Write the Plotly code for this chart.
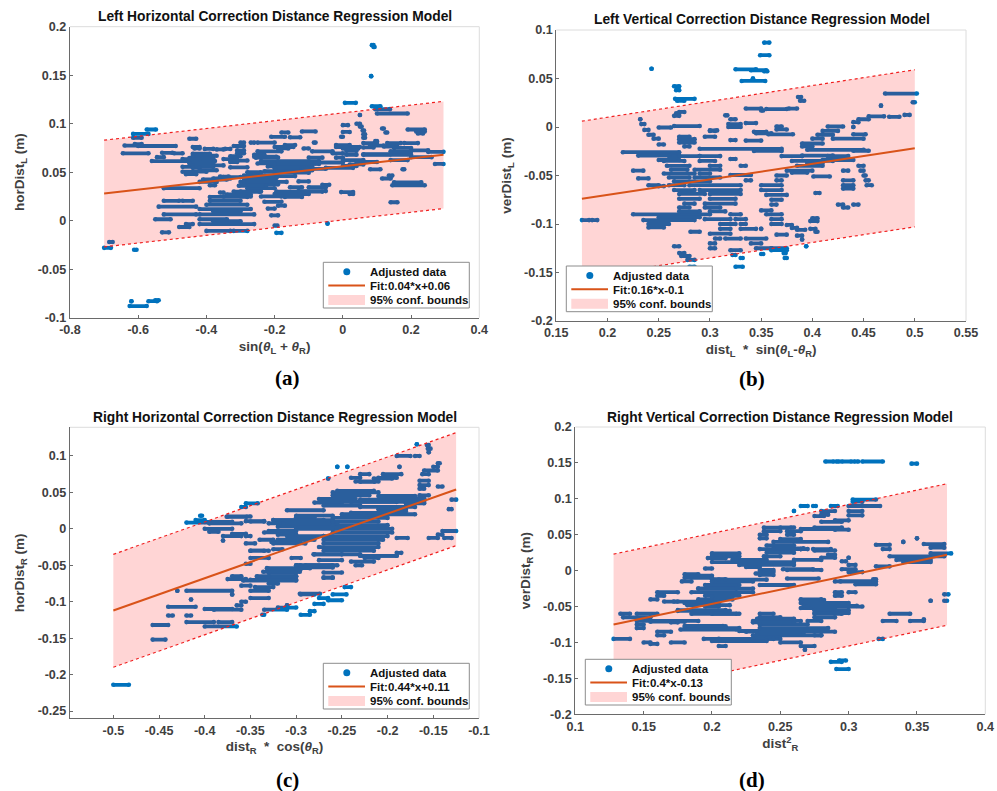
import plotly.graph_objects as go

# ---- panel (a) : rows are (y, x_start, x_end) runs of samples
a_rows = [
(0.181,0.085,0.09),(0.179,0.09,0.093),(0.149,0.083,0.083),(0.1215,0.006,0.038),(0.118,0.085,0.11),(0.115,0.095,0.138),(0.1105,0.1,0.19),(0.109,0.05,0.05),
(0.1,0.04,0.05),(0.097,0.05,0.055),(0.093,0.058,0.062),(0.089,0.06,0.065),(0.0855,0.06,0.065),(0.0985,0.0,0.015),(0.0915,0.0,0.02),(0.0865,-0.005,0.0),
(0.095,0.115,0.12),(0.091,0.125,0.13),(0.094,0.19,0.24),(0.092,0.215,0.24),(0.09,0.22,0.235),
(0.092,-0.12,-0.08),(0.091,-0.18,-0.16),(0.0865,-0.21,-0.17),(0.086,-0.155,-0.125),(0.0845,-0.45,-0.43),
(0.094,-0.575,-0.548),(0.0895,-0.615,-0.57),(0.0855,-0.615,-0.59),(0.079,-0.61,-0.59),(0.0775,-0.64,-0.6),(0.077,-0.6,-0.49),(0.076,-0.44,-0.42),
(0.0695,-0.645,-0.57),(0.0745,-0.435,-0.42),(0.074,-0.405,-0.38),(0.0735,-0.37,-0.35),(0.074,-0.345,-0.33),(0.07,-0.53,-0.5),(0.0695,-0.495,-0.47),(0.0655,-0.545,-0.525),
(0.0615,-0.56,-0.375),(0.069,-0.44,-0.39),(0.067,-0.44,-0.37),(0.0645,-0.45,-0.38),(0.059,-0.45,-0.38),(0.057,-0.44,-0.35),(0.0545,-0.44,-0.42),(0.052,-0.42,-0.37),(0.0505,-0.47,-0.4),(0.048,-0.46,-0.43),(0.0455,-0.36,-0.335),
(0.0605,-0.33,-0.31),(0.0635,-0.35,-0.31),(0.0665,-0.33,-0.3),(0.0695,-0.31,-0.29),(0.0725,-0.31,-0.29),(0.077,-0.32,-0.29),(0.0805,-0.3,-0.29),(0.0805,-0.27,-0.26),(0.0805,-0.25,-0.2),
(0.0615,-0.24,-0.07),(0.0585,-0.2,-0.07),(0.056,-0.22,-0.09),(0.0535,-0.12,-0.05),(0.0715,-0.25,-0.18),(0.0745,-0.19,-0.16),(0.078,-0.17,-0.14),(0.068,-0.26,-0.23),(0.065,-0.255,-0.19),
(0.0715,-0.09,-0.03),(0.0695,-0.03,0.0),(0.0745,-0.115,-0.1),(0.0805,-0.085,-0.08),(0.065,-0.1,-0.06),(0.06,-0.07,0.0),(0.0545,-0.05,0.03),(0.0565,0.0,0.04),
(0.078,-0.02,0.02),(0.076,-0.02,0.05),(0.0745,0.0,0.045),(0.072,0.01,0.04),(0.068,0.01,0.04),(0.065,-0.02,0.0),
(0.08,0.06,0.1),(0.08,0.13,0.17),(0.08,0.18,0.22),(0.082,0.095,0.1),(0.0755,0.06,0.09),(0.068,0.06,0.2),(0.075,0.15,0.2),(0.0725,0.2,0.25),(0.071,0.25,0.295),(0.0625,0.14,0.19),(0.0585,0.27,0.295),
(0.053,0.08,0.11),(0.053,0.175,0.18),(0.0435,0.115,0.14),(0.0465,0.135,0.145),(0.0395,0.15,0.23),(0.0365,0.145,0.24),(0.019,0.14,0.16),(0.0295,-0.005,0.03),(0.0275,0.02,0.03),
(-0.003,-0.045,-0.045),(-0.0125,-0.195,-0.18),(-0.005,-0.2,-0.192),
(0.0205,-0.525,-0.48),(0.0205,-0.47,-0.44),(0.0145,-0.54,-0.43),(0.0065,-0.525,-0.43),(0.0015,-0.55,-0.505),(-0.012,-0.53,-0.51),(0.0335,-0.525,-0.42),(-0.0065,-0.48,-0.45),(-0.0035,-0.46,-0.44),
(-0.0105,-0.4,-0.33),(-0.0105,-0.32,-0.28),(-0.0035,-0.42,-0.26),(0.0015,-0.42,-0.34),(0.0065,-0.42,-0.26),(0.012,-0.42,-0.27),(0.0165,-0.4,-0.28),(0.0205,-0.39,-0.3),(0.0245,-0.39,-0.28),(0.027,-0.34,-0.27),
(0.03,-0.3,-0.24),(0.0335,-0.28,-0.2),(0.0375,-0.29,-0.19),(0.04,-0.28,-0.2),(0.0435,-0.29,-0.21),(0.0465,-0.29,-0.25),(0.05,-0.28,-0.24),
(0.0195,-0.23,-0.18),(0.0125,-0.22,-0.2),(0.0155,-0.19,-0.17),(0.0275,-0.2,-0.1),(0.0245,-0.17,-0.12),(0.0305,-0.13,-0.05),(0.0345,-0.1,-0.05),(0.0345,-0.155,-0.12),(0.037,-0.06,-0.04),(0.0405,-0.13,-0.1),(0.0055,-0.21,-0.19),
(0.0495,-0.2,-0.1),(0.046,-0.19,-0.14),(0.052,-0.12,-0.09),(0.04,-0.42,-0.37),(0.0425,-0.41,-0.34),(0.045,-0.35,-0.3),(0.0365,-0.39,-0.375),(0.029,-0.36,-0.35),
(-0.028,-0.7,-0.68),(-0.022,-0.685,-0.675),(-0.03,-0.612,-0.605),(-0.088,-0.625,-0.575),(-0.083,-0.62,-0.62),(-0.083,-0.57,-0.545),(-0.082,-0.55,-0.54),
(0.076,-0.2,-0.145),(0.066,-0.26,-0.195),(0.059,-0.25,-0.08),(0.054,-0.2,-0.105),(0.051,-0.23,-0.12),(0.047,-0.26,-0.195),(0.044,-0.285,-0.195),(0.04,-0.3,-0.165),(0.036,-0.305,-0.225),(0.03,-0.32,-0.245),(0.03,-0.195,-0.06),(0.025,-0.35,-0.27),(0.025,-0.24,-0.18),
(0.0775,0.08,0.12),(0.0625,0.0,0.06),(0.0685,0.06,0.14),(0.0605,0.04,0.1),(0.058,0.02,0.06),(0.0765,0.12,0.16),(0.0715,0.14,0.2),(0.0655,0.2,0.26),(0.0635,-0.47,-0.42),(0.0555,-0.47,-0.38),(0.062,-0.33,-0.28),(0.055,-0.33,-0.28),(0.0435,-0.38,-0.33),(0.0095,-0.38,-0.3),(-0.0005,-0.38,-0.3),
]
a_fit_x = [-0.7, 0.295]
a_fit_y = [0.028, 0.068]
a_upper = [0.083, 0.123]
a_lower = [-0.027, 0.0125]

# ---- panel (b)
b_rows = [
(0.087,0.353,0.358),(0.074,0.349,0.358),(0.06,0.243,0.243),(0.0595,0.325,0.345),(0.0585,0.34,0.355),(0.0575,0.353,0.356),(0.0475,0.331,0.354),(0.05,0.342,0.342),(0.042,0.265,0.27),(0.038,0.267,0.27),(0.029,0.266,0.285),(0.027,0.268,0.275),
(0.0345,0.471,0.502),(0.031,0.386,0.389),(0.027,0.388,0.392),(0.019,0.335,0.35),(0.0185,0.355,0.375),(0.019,0.377,0.385),(0.017,0.35,0.352),(0.0155,0.27,0.275),(0.014,0.267,0.27),(0.0115,0.265,0.27),
(0.0255,0.498,0.5),(0.022,0.467,0.467),(0.0125,0.49,0.495),(0.011,0.455,0.47),(0.0105,0.475,0.485),(0.008,0.445,0.455),(0.005,0.44,0.445),(0.0,0.44,0.44),
(0.008,0.232,0.232),(0.003,0.233,0.236),(-0.003,0.236,0.24),(-0.008,0.24,0.245),(-0.012,0.245,0.25),(-0.018,0.25,0.255),
(0.001,0.265,0.29),(-0.0005,0.25,0.262),(-0.0125,0.27,0.285),(-0.016,0.27,0.285),(-0.02,0.275,0.28),(-0.0225,0.29,0.37),(-0.026,0.215,0.27),(-0.0295,0.23,0.27),(-0.0247,0.343,0.37),(-0.03,0.37,0.39),(-0.0295,0.39,0.42),(-0.0235,0.395,0.45),(-0.0245,0.44,0.455),
(-0.0075,0.357,0.381),(-0.0025,0.365,0.375),(0.0005,0.365,0.37),(0.003,0.318,0.33),(0.0,0.318,0.33),(0.012,0.315,0.317),(0.008,0.32,0.325),(0.004,0.335,0.345),(-0.005,0.343,0.355),(-0.0065,0.345,0.36),(-0.014,0.335,0.35),(-0.0135,0.32,0.325),(-0.0035,0.3,0.307),(-0.01,0.295,0.305),
(0.0005,0.415,0.43),(-0.004,0.41,0.425),(-0.008,0.405,0.42),(-0.012,0.4,0.41),(-0.012,0.42,0.45),(-0.0075,0.44,0.452),(-0.017,0.39,0.41),(-0.02,0.39,0.4),
(-0.051,0.401,0.417),(-0.068,0.403,0.407),(-0.035,0.38,0.42),(-0.03,0.415,0.435),(-0.034,0.41,0.44),(-0.038,0.4,0.405),(-0.04,0.445,0.45),(-0.045,0.447,0.45),(-0.05,0.45,0.452),(-0.055,0.452,0.455),(-0.06,0.453,0.458),
(-0.045,0.43,0.435),(-0.055,0.43,0.44),(-0.06,0.43,0.44),(-0.0635,0.43,0.44),(-0.08,0.425,0.43),(-0.083,0.43,0.435),(-0.08,0.44,0.445),(-0.094,0.4,0.405),(-0.097,0.398,0.405),(-0.105,0.398,0.403),(-0.108,0.403,0.405),
(-0.101,0.375,0.38),(-0.104,0.38,0.385),(-0.106,0.385,0.393),(-0.112,0.385,0.39),(-0.116,0.39,0.39),(-0.123,0.394,0.394),(-0.111,0.365,0.375),
(-0.045,0.225,0.235),(-0.053,0.23,0.24),(-0.06,0.24,0.25),(-0.061,0.25,0.255),(-0.09,0.225,0.3),(-0.093,0.25,0.29),(-0.096,0.235,0.285),(-0.1,0.24,0.26),(-0.1035,0.24,0.255),(-0.096,0.175,0.182),(-0.096,0.185,0.19),(-0.108,0.281,0.29),
(-0.123,0.265,0.27),(-0.13,0.27,0.275),(-0.133,0.272,0.28),(-0.137,0.278,0.285),(-0.144,0.28,0.285),(-0.144,0.325,0.332),(-0.135,0.33,0.332),(-0.132,0.322,0.325),(-0.127,0.32,0.33),(-0.125,0.345,0.36),(-0.131,0.35,0.352),(-0.127,0.36,0.375),(-0.125,0.36,0.375),(-0.13,0.372,0.374),(-0.135,0.373,0.375),
(-0.115,0.335,0.355),(-0.12,0.34,0.35),(-0.105,0.33,0.345),(-0.1,0.33,0.335),(-0.095,0.325,0.335),(-0.09,0.32,0.33),(-0.086,0.35,0.36),(-0.09,0.355,0.37),(-0.095,0.36,0.37),(-0.1,0.36,0.37),(-0.105,0.35,0.35),(-0.11,0.3,0.32),
(-0.06,0.35,0.37),(-0.065,0.35,0.37),(-0.07,0.355,0.375),(-0.075,0.36,0.37),(-0.08,0.36,0.365),(-0.055,0.335,0.34),(-0.0495,0.32,0.34),(-0.05,0.365,0.375),(-0.045,0.375,0.4),(-0.047,0.38,0.395),(-0.055,0.365,0.37),(-0.04,0.385,0.41),(-0.037,0.395,0.41),
(-0.115,0.305,0.31),(-0.12,0.3,0.305),(-0.115,0.315,0.33),(-0.125,0.3,0.305),
(-0.035,0.255,0.275),(-0.04,0.258,0.28),(-0.044,0.262,0.278),(-0.044,0.285,0.31),(-0.048,0.255,0.285),(-0.048,0.29,0.3),(-0.052,0.26,0.28),(-0.052,0.285,0.31),(-0.056,0.265,0.3),(-0.06,0.26,0.275),(-0.06,0.28,0.33),(-0.065,0.265,0.285),(-0.065,0.29,0.33),(-0.069,0.27,0.295),(-0.069,0.3,0.33),(-0.074,0.27,0.29),(-0.074,0.3,0.325),(-0.079,0.275,0.285),(-0.079,0.295,0.325),(-0.083,0.27,0.28),(-0.083,0.295,0.31),(-0.087,0.27,0.29),(-0.087,0.3,0.315),
(-0.095,0.295,0.32),(-0.1,0.31,0.325),(-0.105,0.31,0.32),(-0.04,0.3,0.31),(-0.03,0.29,0.31),(-0.034,0.25,0.27),(-0.03,0.26,0.29),(-0.035,0.29,0.305),(-0.033,0.32,0.325),(-0.04,0.33,0.335),
(-0.01,0.27,0.28),(-0.004,0.3,0.305),
]
b_fit_x = [0.175, 0.5]
b_fit_y = [-0.074, -0.022]
b_upper = [0.006, 0.059]
b_lower = [-0.155, -0.103]

# ---- panel (c)
c_rows = [
(0.116,-0.168,-0.168),(0.115,-0.157,-0.155),(0.11,-0.156,-0.153),(0.105,-0.155,-0.155),(0.1,-0.19,-0.175),(0.1,-0.17,-0.165),(0.085,-0.255,-0.255),(0.085,-0.244,-0.244),(0.09,-0.145,-0.143),(0.085,-0.15,-0.145),(0.08,-0.16,-0.145),(0.075,-0.162,-0.155),(0.085,-0.187,-0.187),(0.069,-0.265,-0.265),
(0.075,-0.205,-0.185),(0.07,-0.21,-0.19),(0.075,-0.23,-0.22),(0.065,-0.235,-0.21),(0.07,-0.24,-0.23),(0.066,-0.165,-0.155),(0.06,-0.165,-0.155),(0.055,-0.165,-0.16),(0.058,-0.145,-0.14),
(0.052,-0.255,-0.215),(0.05,-0.26,-0.21),(0.046,-0.26,-0.22),(0.046,-0.165,-0.155),(0.041,-0.275,-0.235),(0.04,-0.23,-0.17),(0.036,-0.28,-0.25),(0.037,-0.24,-0.16),(0.032,-0.27,-0.23),(0.03,-0.23,-0.17),(0.027,-0.21,-0.18),(0.0255,-0.31,-0.27),(0.035,-0.355,-0.342),(0.03,-0.36,-0.355),(0.02,-0.25,-0.22),(0.015,-0.26,-0.2),(0.017,-0.375,-0.35),(0.012,-0.41,-0.4),(0.0085,-0.42,-0.395),(0.012,-0.325,-0.27),(0.0105,-0.355,-0.335),(0.0075,-0.395,-0.36),(0.0075,-0.33,-0.26),(0.0,-0.4,-0.37),(-0.004,-0.395,-0.385),(0.003,-0.32,-0.24),(0.018,-0.405,-0.403),
(-0.214,-0.5,-0.483),(-0.152,-0.457,-0.443),(-0.132,-0.457,-0.44),(-0.119,-0.44,-0.435),(-0.119,-0.42,-0.415),(-0.107,-0.44,-0.41),(-0.128,-0.42,-0.39),(-0.128,-0.385,-0.37),(-0.134,-0.4,-0.365),(-0.11,-0.4,-0.37),(-0.111,-0.39,-0.36),(-0.097,-0.415,-0.415),(-0.085,-0.42,-0.37),(-0.085,-0.43,-0.43),(-0.09,-0.37,-0.37),(-0.078,-0.36,-0.35),
(-0.095,-0.35,-0.33),(-0.085,-0.35,-0.33),(-0.08,-0.345,-0.325),(-0.075,-0.33,-0.32),(-0.07,-0.35,-0.3),(-0.069,-0.375,-0.355),(-0.065,-0.37,-0.36),(-0.065,-0.33,-0.3),(-0.06,-0.33,-0.3),(-0.055,-0.33,-0.295),(-0.048,-0.355,-0.35),(-0.053,-0.3,-0.26),(-0.05,-0.29,-0.26),(-0.06,-0.27,-0.25),(-0.067,-0.27,-0.26),(-0.105,-0.365,-0.36),(-0.1,-0.36,-0.355),
(-0.111,-0.335,-0.31),(-0.108,-0.32,-0.3),(-0.118,-0.337,-0.335),(-0.105,-0.31,-0.31),(-0.118,-0.295,-0.285),(-0.113,-0.285,-0.28),(-0.103,-0.28,-0.27),(-0.098,-0.265,-0.25),(-0.095,-0.275,-0.265),(-0.09,-0.26,-0.245),(-0.08,-0.247,-0.24),(-0.09,-0.295,-0.28),
(-0.0125,-0.19,-0.178),(-0.0125,-0.155,-0.145),(-0.008,-0.145,-0.14),(-0.003,-0.14,-0.125),(-0.0125,-0.138,-0.13),(0.04,-0.13,-0.125),(0.027,-0.133,-0.13),
(-0.033,-0.19,-0.185),(-0.037,-0.23,-0.19),(-0.04,-0.225,-0.21),(-0.045,-0.24,-0.215),(-0.05,-0.235,-0.228),(-0.043,-0.275,-0.25),(-0.035,-0.28,-0.23),(-0.03,-0.27,-0.215),(-0.025,-0.275,-0.21),(-0.02,-0.27,-0.21),(-0.015,-0.27,-0.205),(-0.01,-0.27,-0.2),(-0.005,-0.26,-0.195),(0.0,-0.26,-0.195),(0.005,-0.26,-0.2),(0.01,-0.26,-0.21),
(-0.04,-0.305,-0.295),(-0.028,-0.325,-0.315),(-0.02,-0.325,-0.29),(-0.015,-0.32,-0.28),(-0.01,-0.31,-0.27),(-0.03,-0.35,-0.335),(-0.04,-0.35,-0.33),(-0.01,-0.38,-0.36),(-0.01,-0.355,-0.35),(-0.02,-0.355,-0.345),(-0.016,-0.38,-0.38),(-0.015,-0.34,-0.325),(-0.005,-0.335,-0.31),(0.0,-0.3,-0.26),(-0.003,-0.33,-0.3),
(0.016,-0.3,-0.28),(0.01,-0.35,-0.335),(0.02,-0.225,-0.17),(0.024,-0.2,-0.18),(-0.05,-0.3,-0.295),(0.035,-0.18,-0.16),(0.045,-0.21,-0.17),
(0.0645,-0.23,-0.214),(0.069,-0.215,-0.195),(0.037,-0.274,-0.19),(0.012,-0.325,-0.26),(0.0075,-0.314,-0.255),(0.0165,-0.376,-0.354),(0.0095,-0.4,-0.37),(-0.007,-0.37,-0.355),(-0.018,-0.327,-0.296),(-0.03,-0.35,-0.33),(-0.035,-0.281,-0.25),(-0.037,-0.23,-0.19),(-0.05,-0.3,-0.255),(-0.054,-0.332,-0.285),(-0.059,-0.336,-0.296),(-0.065,-0.343,-0.3),(-0.071,-0.358,-0.3),(-0.067,-0.27,-0.26),(-0.089,-0.296,-0.274),
(0.042,-0.2,-0.16),(0.022,-0.24,-0.2),(0.018,-0.3,-0.26),(-0.008,-0.32,-0.3),(-0.012,-0.25,-0.21),
]
c_fit_x = [-0.5, -0.125]
c_fit_y = [-0.112, 0.054]
c_upper = [-0.035, 0.132]
c_lower = [-0.19, -0.023]

# ---- panel (d)
d_rows = [
(0.152,0.283,0.289),(0.152,0.291,0.293),(0.152,0.295,0.302),(0.152,0.304,0.307),(0.152,0.31,0.325),(0.149,0.346,0.35),
(0.099,0.303,0.32),(0.096,0.303,0.31),(0.09,0.3,0.323),(0.09,0.265,0.27),(0.09,0.274,0.276),(0.09,0.287,0.292),(0.083,0.26,0.26),(0.083,0.3,0.31),(0.077,0.3,0.31),(0.076,0.275,0.282),(0.078,0.28,0.285),(0.083,0.28,0.29),(0.07,0.29,0.3),(0.068,0.28,0.295),
(0.06,0.275,0.295),(0.058,0.265,0.29),(0.057,0.29,0.3),(0.06,0.238,0.258),(0.06,0.25,0.26),(0.055,0.238,0.25),(0.055,0.255,0.265),(0.05,0.235,0.24),(0.05,0.255,0.26),(0.045,0.235,0.24),(0.04,0.245,0.285),(0.044,0.25,0.265),(0.035,0.24,0.26),(0.03,0.235,0.265),(0.03,0.265,0.27),(0.025,0.24,0.26),(0.02,0.238,0.25),(0.028,0.275,0.29),(0.022,0.285,0.29),(0.018,0.28,0.29),(0.015,0.26,0.28),
(0.024,0.2,0.22),(0.02,0.2,0.22),(0.0175,0.197,0.21),(0.015,0.215,0.24),(0.012,0.2,0.26),(0.008,0.22,0.26),(0.005,0.225,0.235),(0.003,0.195,0.2),(0.001,0.235,0.245),(-0.002,0.235,0.245),(-0.006,0.235,0.245),(-0.007,0.185,0.2),(0.001,0.255,0.28),
(-0.01,0.18,0.2),(-0.015,0.178,0.185),(-0.012,0.2,0.21),(-0.02,0.195,0.22),(-0.025,0.19,0.23),(-0.03,0.185,0.23),(-0.035,0.195,0.22),(-0.04,0.19,0.215),(-0.045,0.18,0.205),(-0.05,0.195,0.205),(-0.055,0.175,0.21),(-0.06,0.185,0.22),(-0.0125,0.205,0.24),(-0.015,0.2,0.23),(-0.02,0.235,0.26),
(-0.03,0.16,0.175),(-0.035,0.16,0.165),(-0.04,0.155,0.16),(-0.043,0.165,0.175),(-0.06,0.133,0.14),(-0.06,0.145,0.16),(-0.065,0.135,0.155),(-0.07,0.145,0.19),(-0.072,0.17,0.175),(-0.075,0.145,0.15),(-0.08,0.145,0.15),(-0.08,0.18,0.22),(-0.0775,0.19,0.21),(-0.095,0.128,0.14),(-0.095,0.205,0.25),(-0.1,0.15,0.155),(-0.1,0.17,0.18),(-0.102,0.155,0.16),(-0.105,0.205,0.21),(-0.09,0.16,0.165),(-0.085,0.16,0.17),
(-0.085,0.225,0.29),(-0.09,0.23,0.28),(-0.08,0.235,0.285),(-0.075,0.235,0.27),(-0.07,0.23,0.265),(-0.065,0.235,0.25),(-0.06,0.235,0.245),(-0.095,0.23,0.245),(-0.1,0.25,0.265),(-0.105,0.265,0.275),(-0.11,0.268,0.268),(-0.09,0.275,0.28),(-0.07,0.27,0.28),(-0.065,0.275,0.29),(-0.06,0.275,0.295),(-0.055,0.275,0.3),(-0.05,0.27,0.31),(-0.045,0.265,0.3),(-0.04,0.265,0.28),(-0.035,0.29,0.295),(-0.03,0.29,0.295),(-0.03,0.3,0.305),
(-0.127,0.287,0.295),(-0.125,0.293,0.298),(-0.137,0.291,0.3),(-0.095,0.322,0.325),(-0.07,0.325,0.335),(-0.06,0.33,0.345),(-0.07,0.345,0.355),(-0.068,0.355,0.355),(-0.042,0.36,0.36),(-0.033,0.37,0.373),(-0.042,0.37,0.372),
(0.02,0.33,0.37),(0.024,0.36,0.375),(0.015,0.335,0.36),(0.012,0.34,0.36),(0.036,0.32,0.33),(0.03,0.325,0.33),(0.037,0.355,0.37),(0.032,0.36,0.37),(0.04,0.34,0.34),(0.045,0.35,0.35),(0.006,0.32,0.33),(-0.002,0.3,0.31),(-0.015,0.29,0.32),(-0.019,0.305,0.32),(-0.012,0.318,0.32),(0.002,0.295,0.305),(0.008,0.3,0.305),(0.018,0.3,0.3),(0.013,0.295,0.298),
(0.0125,0.218,0.238),(0.031,0.245,0.267),(0.03,0.274,0.287),(0.002,0.252,0.274),(-0.011,0.255,0.278),(-0.015,0.294,0.318),(-0.004,0.232,0.24),(-0.005,0.18,0.19),(-0.025,0.19,0.218),(-0.036,0.2,0.215),(-0.043,0.172,0.2),(-0.048,0.182,0.213),(-0.056,0.175,0.213),(-0.06,0.2,0.218),(-0.071,0.155,0.18),(-0.077,0.18,0.208),(-0.082,0.177,0.218),
(-0.095,0.194,0.24),(-0.098,0.2,0.24),(-0.041,0.265,0.282),(-0.049,0.267,0.306),(-0.052,0.265,0.29),(-0.059,0.275,0.3),(-0.067,0.233,0.26),(-0.072,0.23,0.26),(-0.084,0.22,0.267),(-0.088,0.233,0.267),
]
d_fit_x = [0.128, 0.372]
d_fit_y = [-0.075, 0.022]
d_upper = [0.023, 0.121]
d_lower = [-0.174, -0.076]

# ---- text
titles = ["Left Horizontal Correction Distance Regression Model",
          "Left Vertical Correction Distance Regression Model",
          "Right Horizontal Correction Distance Regression Model",
          "Right Vertical Correction Distance Regression Model"]
captions = ["(a)", "(b)", "(c)", "(d)"]
fit_names = ["Fit:0.04*x+0.06", "Fit:0.16*x-0.1", "Fit:0.44*x+0.11", "Fit:0.4*x-0.13"]
xlabels = ["sin(<i>θ</i><sub>L</sub> + <i>θ</i><sub>R</sub>)",
           "dist<sub>L</sub>  *  sin(<i>θ</i><sub>L</sub>-<i>θ</i><sub>R</sub>)",
           "dist<sub>R</sub>  *  cos(<i>θ</i><sub>R</sub>)",
           "dist<sup>2</sup><sub>R</sub>"]
ylabels = ["horDist<sub>L</sub> (m)", "verDist<sub>L</sub> (m)", "horDist<sub>R</sub> (m)", "verDist<sub>R</sub> (m)"]
x_ticks = [[-0.8,-0.6,-0.4,-0.2,0,0.2,0.4],
           [0.15,0.2,0.25,0.3,0.35,0.4,0.45,0.5,0.55],
           [-0.5,-0.45,-0.4,-0.35,-0.3,-0.25,-0.2,-0.15,-0.1],
           [0.1,0.15,0.2,0.25,0.3,0.35,0.4]]
y_ticks = [[-0.1,-0.05,0,0.05,0.1,0.15,0.2],
           [-0.2,-0.15,-0.1,-0.05,0,0.05,0.1],
           [-0.25,-0.2,-0.15,-0.1,-0.05,0,0.05,0.1],
           [-0.2,-0.15,-0.1,-0.05,0,0.05,0.1,0.15,0.2]]
x_ranges = [[-0.8,0.4],[0.15,0.55],[-0.5474,-0.1],[0.1,0.4]]
y_ranges = [[-0.1,0.2],[-0.2,0.1],[-0.26,0.1393],[-0.2,0.2]]
legend_labels = ["Adjusted data", None, "95% conf. bounds"]

# ---- layout geometry (pixels in the 997x791 page)
W, H = 997, 791
boxes = [(70,479.3,26.7,317.7),(556.3,966,30,321),(70,479,427.3,718.3),(575.3,985.3,427,714.3)]
legend_xy = [(323.3,262.3),(566.3,266),(323.3,663.3),(585.3,659.3)]
caption_xy = [(287,378),(752,379),(287,780),(752,780)]
title_cx = [274.5,761.5,275,780]
title_y = [16.7,20,417.7,417]

BLUE, ORANGE, RED = "#0072BD", "#D95319", "#F02020"
BAND = "rgba(255,0,0,0.165)"
FONT = "Liberation Sans"
PX = lambda v: v/W
PY = lambda v: 1-v/H

def runs(rows):
    xs, ys = [], []
    for y, x0, x1 in rows:
        xs += [x0, x1, None]
        ys += [y, y, None]
    return xs, ys

fig = go.Figure()
panels = [(a_rows,a_fit_x,a_fit_y,a_upper,a_lower),(b_rows,b_fit_x,b_fit_y,b_upper,b_lower),
          (c_rows,c_fit_x,c_fit_y,c_upper,c_lower),(d_rows,d_fit_x,d_fit_y,d_upper,d_lower)]
layout = {}
shapes, annotations = [], []
for i, (rows, fx, fy, up, lo) in enumerate(panels):
    n = "" if i == 0 else str(i+1)
    xa, ya = "x"+n, "y"+n
    xs, ys = runs(rows)
    common = dict(xaxis=xa, yaxis=ya, showlegend=False)
    # samples go underneath the translucent band, as in the original
    fig.add_trace(go.Scatter(x=xs, y=ys, mode="lines+markers", hoverinfo="skip", name="Adjusted data",
                             line=dict(color=BLUE, width=3.8), marker=dict(color=BLUE, size=4.6),
                             connectgaps=False, **common))
    fig.add_trace(go.Scatter(x=fx+fx[::-1], y=up+lo[::-1], mode="none", fill="toself", fillcolor=BAND,
                             name="95% conf. bounds", **common))
    fig.add_trace(go.Scatter(x=fx, y=fy, mode="lines", name=fit_names[i],
                             line=dict(color=ORANGE, width=2), **common))
    for b in (up, lo):
        fig.add_trace(go.Scatter(x=fx, y=b, mode="lines", name="bound",
                                 line=dict(color=RED, width=1.2, dash="dot"), **common))
    l, r, t, bt = boxes[i]
    ax = dict(showgrid=False, zeroline=False, showline=True, linecolor="#6a6a6a", linewidth=1.2,
              ticks="inside", ticklen=3, tickcolor="#6a6a6a", tickwidth=1, automargin=False,
              tickfont=dict(family=FONT, size=12.6, color="#404040", weight="bold"))
    tf = dict(family=FONT, size=13.5, color="#404040", weight="bold")
    layout["xaxis"+n] = dict(ax, domain=[l/W, r/W], range=x_ranges[i], anchor=ya,
                             tickvals=x_ticks[i], ticktext=[str(v) for v in x_ticks[i]],
                             title=dict(text=xlabels[i], standoff=5, font=tf))
    layout["yaxis"+n] = dict(ax, domain=[1-bt/H, 1-t/H], range=y_ranges[i], anchor=xa,
                             tickvals=y_ticks[i], ticktext=[str(v) for v in y_ticks[i]],
                             title=dict(text=ylabels[i], standoff=9, font=tf))
    for sx0, sy0, sx1, sy1 in [(0,1,1,1),(1,0,1,1)]:
        shapes.append(dict(type="line", xref=xa+" domain", yref=ya+" domain", x0=sx0, y0=sy0, x1=sx1, y1=sy1,
                           line=dict(color="#dcdcdc", width=1)))
    # legend box, drawn to the compact MATLAB proportions
    lx, ly = legend_xy[i]
    shapes.append(dict(type="rect", xref="paper", yref="paper", x0=PX(lx), x1=PX(lx+146), y0=PY(ly), y1=PY(ly+45.7),
                       fillcolor="white", line=dict(color="#8c8c8c", width=1)))
    shapes.append(dict(type="circle", xref="paper", yref="paper", x0=PX(lx+20), x1=PX(lx+27), y0=PY(ly+6), y1=PY(ly+13),
                       fillcolor=BLUE, line=dict(width=0)))
    shapes.append(dict(type="line", xref="paper", yref="paper", x0=PX(lx+5), x1=PX(lx+41.7), y0=PY(ly+23.3), y1=PY(ly+23.3),
                       line=dict(color=ORANGE, width=2)))
    shapes.append(dict(type="rect", xref="paper", yref="paper", x0=PX(lx+5), x1=PX(lx+41.7), y0=PY(ly+32.7), y1=PY(ly+42.7),
                       fillcolor="#FFD5D5", line=dict(width=0)))
    for lab, dy in zip([legend_labels[0], fit_names[i], legend_labels[2]], [10, 23.7, 38]):
        annotations.append(dict(text="<b>"+lab+"</b>", x=PX(lx+44.3), y=PY(ly+dy), xref="paper", yref="paper",
                                showarrow=False, xanchor="left", yanchor="middle",
                                font=dict(family=FONT, size=11.5, color="#111111")))
    annotations.append(dict(text="<b>"+titles[i]+"</b>", x=PX(title_cx[i]), y=PY(title_y[i]), xref="paper", yref="paper",
                            showarrow=False, xanchor="center", yanchor="middle",
                            font=dict(family=FONT, size=13.8, color="#111111")))
    cx, cy = caption_xy[i]
    annotations.append(dict(text="<b>"+captions[i]+"</b>", x=PX(cx), y=PY(cy), xref="paper", yref="paper",
                            showarrow=False, xanchor="center", yanchor="middle",
                            font=dict(family="Liberation Serif", size=21, color="#000000")))

fig.update_layout(width=W, height=H, autosize=False, margin=dict(l=0,r=0,t=0,b=0), showlegend=False,
                  paper_bgcolor="white", plot_bgcolor="white", shapes=shapes, annotations=annotations,
                  **layout)
fig.write_html("out.html", config={"displayModeBar": False},
               post_script="document.body.style.margin='0';document.body.style.overflow='hidden';")
